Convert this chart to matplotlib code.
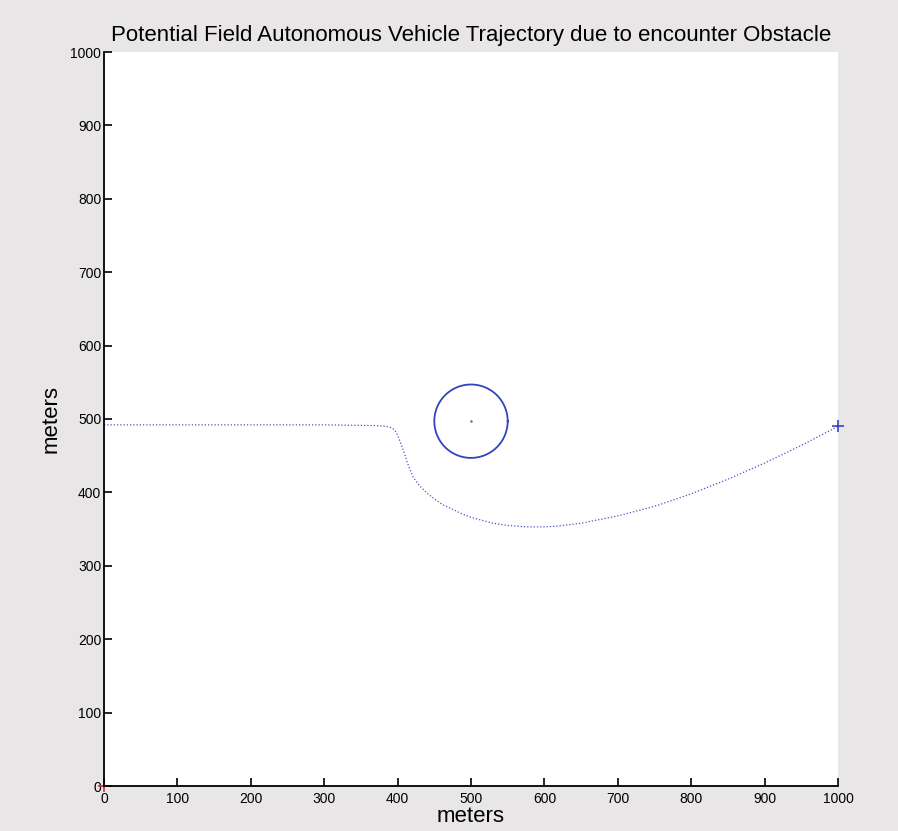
import matplotlib
matplotlib.use("Agg")
import matplotlib.pyplot as plt
import numpy as np

plt.rcParams['font.family'] = ['Liberation Sans', 'DejaVu Sans']

# Vehicle path (meters)
path_x = [0, 100, 200, 300, 370, 385, 392, 396, 399, 402, 406, 410, 413, 417,
          421, 430, 440, 450, 462, 475, 485, 500, 515, 530, 550, 576, 600,
          617, 650, 700, 750, 800, 850, 900, 950, 1000]
path_y = [492, 492, 492, 492, 491, 490, 488, 485, 480, 473, 462, 451, 441, 431,
          421, 409, 399, 391, 383, 377, 372, 366, 362, 358, 355, 353, 353,
          354, 358, 368, 381, 398, 418, 440, 464, 490]

# Obstacle and endpoints
obstacle_center = (500, 497)
obstacle_radius = 50
start_point = (0, 0)
goal_point = (1000, 490)

x_ticks = list(range(0, 1001, 100))
y_ticks = list(range(0, 1001, 100))

fig = plt.figure(figsize=(8.98, 8.31), dpi=100, facecolor='#e8e6e7')
ax = fig.add_axes([104/898, 45/831, 734/898, 734/831])
ax.set_facecolor('white')

ax.plot(path_x, path_y, color='#4455cc', linewidth=0.9,
        linestyle=(0, (1, 1.6)))

theta = np.linspace(0, 2*np.pi, 400)
ax.plot(obstacle_center[0] + obstacle_radius*np.cos(theta),
        obstacle_center[1] + obstacle_radius*np.sin(theta),
        color='#3344bb', linewidth=1.3)
ax.plot(*obstacle_center, marker='.', color='#5566aa', markersize=1.5)

ax.plot(*start_point, marker='+', color='#e03040', markersize=8,
        markeredgewidth=1.2, clip_on=False)
ax.plot(*goal_point, marker='+', color='#3344bb', markersize=8,
        markeredgewidth=1.2, clip_on=False)

ax.set_xlim(0, 1000)
ax.set_ylim(0, 1000)
ax.set_xticks(x_ticks)
ax.set_yticks(y_ticks)
ax.tick_params(direction='in', length=5.5, width=1.2, labelsize=10,
               pad=2, colors='black')
ax.tick_params(axis='x', pad=4)
for s in ['top', 'right']:
    ax.spines[s].set_visible(False)
for s in ['left', 'bottom']:
    ax.spines[s].set_linewidth(1.3)

ax.set_title('Potential Field Autonomous Vehicle Trajectory due to encounter Obstacle',
             fontsize=16, pad=8)
ax.set_xlabel('meters', fontsize=16, labelpad=0)
ax.set_ylabel('meters', fontsize=16, labelpad=6)

fig.savefig('out.png', dpi=100, facecolor=fig.get_facecolor())
